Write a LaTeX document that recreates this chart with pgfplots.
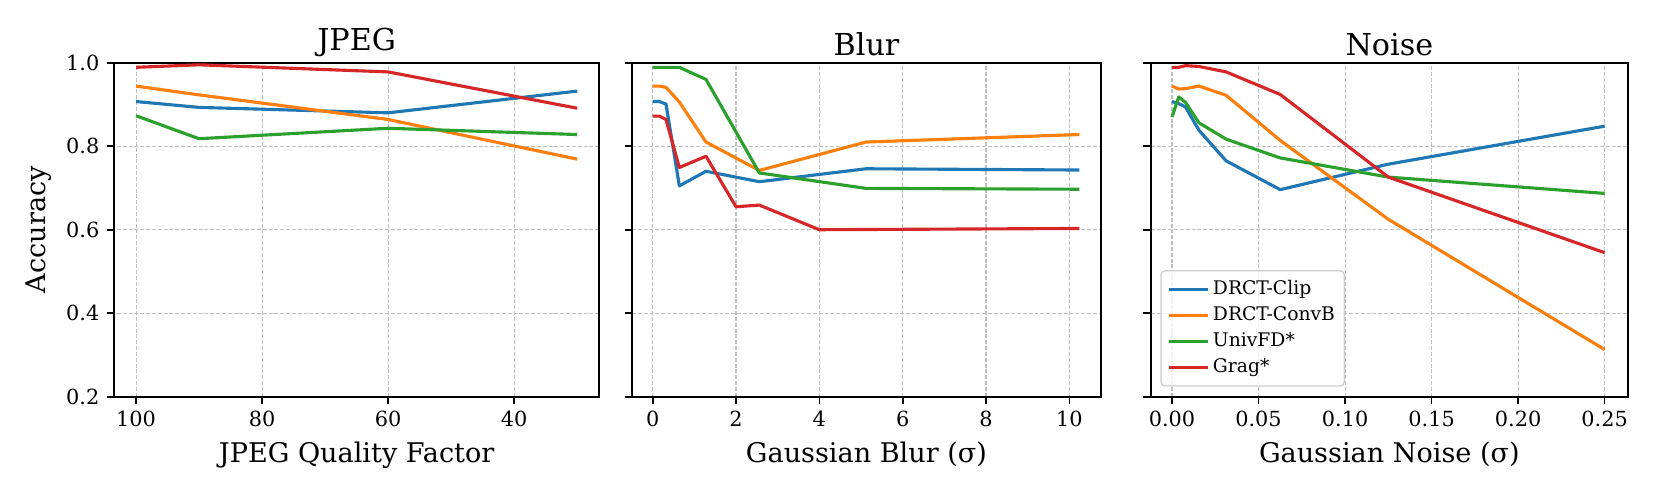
\documentclass[border=0pt]{standalone}
\usepackage{fontspec}
\setmainfont{DejaVu Serif}
\usepackage{pgfplots}
\pgfplotsset{compat=1.18}
\definecolor{tabblue}{HTML}{1F77B4}
\definecolor{taborange}{HTML}{FF7F0E}
\definecolor{tabgreen}{HTML}{2CA02C}
\definecolor{tabred}{HTML}{D62728}
\pgfplotsset{
  every axis/.style={
    scale only axis, anchor=south west,
    height=160.32pt,
    ymin=0.2, ymax=1.0, ytick={0.2,0.4,0.6,0.8,1.0},
    tick align=outside, xtick pos=bottom, ytick pos=left,
    major tick length=3.5pt,
    every tick/.style={black, line width=0.8pt},
    axis line style={line width=0.8pt},
    grid=major, grid style={dash pattern=on 1.9pt off 0.9pt, gray!50, line width=0.5pt},
    /pgf/number format/assume math mode=true,
    tick label style={font=\fontsize{10}{12}\selectfont},
    yticklabel style={/pgf/number format/.cd, fixed, fixed zerofill, precision=1},
    label style={font=\fontsize{13}{15}\selectfont},
    title style={font=\fontsize{14.5}{17}\selectfont, yshift=-6.5pt},
    every axis plot/.append style={line width=1.5pt, no marks, line join=round},
  },
}
\begin{document}
\begin{tikzpicture}
\useasboundingbox (0,0) rectangle (797.28pt,239.04pt);
% JPEG
\begin{axis}[at={(54.72pt,48.62pt)}, width=232.94pt,
  title={JPEG}, xlabel={JPEG Quality Factor}, ylabel={Accuracy},
  x dir=reverse, xmin=26.5, xmax=103.5, xtick={40,60,80,100}]
\addplot[tabblue] coordinates {(100,0.907) (90,0.893) (60,0.880) (30,0.932)};
\addplot[taborange] coordinates {(100,0.944) (90,0.923) (60,0.864) (30,0.769)};
\addplot[tabgreen] coordinates {(100,0.873) (90,0.818) (60,0.843) (30,0.828)};
\addplot[tabred] coordinates {(100,0.989) (90,0.995) (60,0.978) (30,0.891)};
\end{axis}
% Blur
\begin{axis}[at={(303.36pt,48.62pt)}, width=225.12pt,
  title={Blur}, xlabel={Gaussian Blur (σ)},
  yticklabels={}, xmin=-0.496, xmax=10.76, xtick={0,2,4,6,8,10}]
\addplot[tabblue] coordinates {(0,0.907) (0.16,0.907) (0.32,0.901) (0.64,0.705) (1.28,0.740) (2.56,0.715) (5.12,0.746) (10.24,0.743)};
\addplot[taborange] coordinates {(0,0.944) (0.16,0.944) (0.32,0.941) (0.64,0.906) (1.28,0.810) (2.56,0.742) (5.12,0.810) (10.24,0.828)};
\addplot[tabgreen] coordinates {(0,0.989) (0.32,0.989) (0.64,0.989) (1.28,0.960) (2.56,0.736) (5.12,0.699) (10.24,0.697)};
\addplot[tabred] coordinates {(0,0.872) (0.16,0.872) (0.32,0.864) (0.64,0.749) (1.28,0.776) (2,0.655) (2.56,0.659) (4,0.600) (10.24,0.603)};
\end{axis}
% Noise
\begin{axis}[at={(552.34pt,48.62pt)}, width=229.10pt,
  title={Noise}, xlabel={Gaussian Noise (σ)},
  yticklabels={}, xmin=-0.0123, xmax=0.2635, xtick={0,0.05,0.10,0.15,0.20,0.25},
  xticklabel style={/pgf/number format/.cd, fixed, fixed zerofill, precision=2},
  legend cell align=left,
  legend style={at={(0.02,0.03)}, anchor=south west, font=\fontsize{9}{11}\selectfont,
    draw=gray!40, line width=0.6pt, rounded corners=2pt, fill=white, fill opacity=0.8, text opacity=1,
    row sep=0.7pt, inner sep=3pt,
    nodes={inner sep=1.5pt, text height=6.8pt, text depth=2pt}},
  legend image code/.code={\draw[#1] (0pt,0pt) -- (19pt,0pt);}]
\addplot[tabblue] coordinates {(0,0.907) (0.0039,0.902) (0.0078,0.894) (0.0156,0.838) (0.03125,0.765) (0.0625,0.696) (0.125,0.757) (0.25,0.848)};
\addlegendentry{DRCT-Clip}
\addplot[taborange] coordinates {(0,0.944) (0.0039,0.937) (0.0078,0.938) (0.0156,0.944) (0.03125,0.922) (0.0625,0.814) (0.125,0.625) (0.25,0.313)};
\addlegendentry{DRCT-ConvB}
\addplot[tabgreen] coordinates {(0,0.870) (0.0039,0.918) (0.0078,0.905) (0.0156,0.856) (0.03125,0.817) (0.0625,0.772) (0.125,0.726) (0.25,0.687)};
\addlegendentry{UnivFD*}
\addplot[tabred] coordinates {(0,0.989) (0.0039,0.989) (0.0078,0.993) (0.0156,0.991) (0.03125,0.978) (0.0625,0.924) (0.125,0.726) (0.25,0.545)};
\addlegendentry{Grag*}
\end{axis}
\end{tikzpicture}
\end{document}
